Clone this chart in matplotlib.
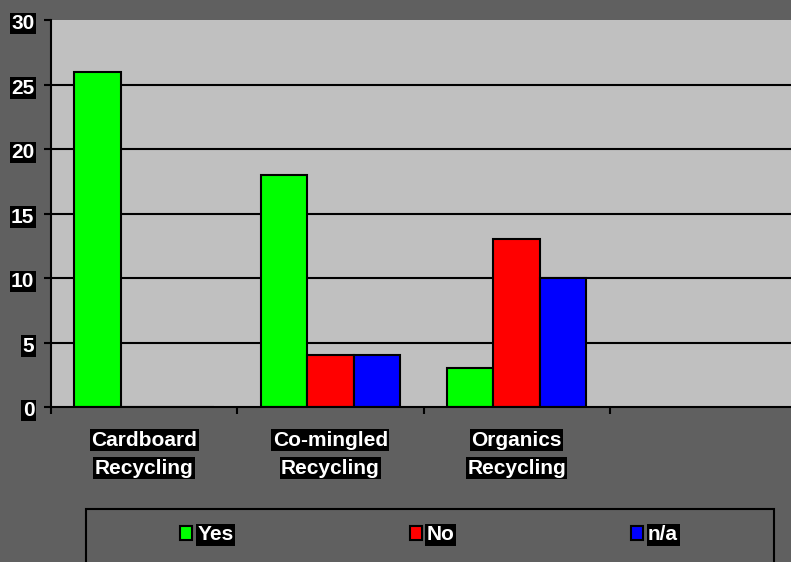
import numpy as np
import matplotlib
matplotlib.use("Agg")
import matplotlib.pyplot as plt
import matplotlib.transforms as mtransforms
from matplotlib.patches import Rectangle

plt.rcParams['font.family'] = ['Liberation Sans', 'DejaVu Sans']
plt.rcParams['font.weight'] = 'bold'

# data
categories = ["Cardboard\nRecycling", "Co-mingled\nRecycling", "Organics\nRecycling", ""]
series = ["Yes", "No", "n/a"]
yes = [26, 18, 3]
no = [0, 4, 13]
na = [0, 4, 10]
yticks = [0, 5, 10, 15, 20, 25, 30]

colors = ['#00ff00', '#ff0000', '#0000ff']
bg = '#606060'
W, H = 791, 562

fig = plt.figure(figsize=(W / 100, H / 100), dpi=100, facecolor=bg)
# plot area: left 51px, top 20px, bottom 407px, runs off the right edge
ax = fig.add_axes([51 / W, (H - 407) / H, (796 - 51) / W, (407 - 20) / H])
ax.set_facecolor('#c0c0c0')

x = np.arange(len(yes))
width = 0.25
bars = []
for i, (vals, c) in enumerate(zip([yes, no, na], colors)):
    b = ax.bar(x + (i - 1) * width, vals, width, color=c, edgecolor='black',
               linewidth=1.5, zorder=3, label=series[i])
    bars.append(b)

ax.set_xlim(-0.5, len(categories) - 0.5)
ax.set_ylim(yticks[0], yticks[-1])
ax.set_yticks(yticks)
ax.hlines(yticks[1:-1], 0, 1, transform=ax.get_yaxis_transform(),
          color='black', linewidth=1.5, zorder=1)

# ticks between categories, no labels on them
ax.set_xticks(np.arange(len(categories) + 1) - 0.5)
ax.set_xticklabels([])

for s in ['top', 'right']:
    ax.spines[s].set_visible(False)
for s in ['left', 'bottom']:
    ax.spines[s].set_linewidth(1.5)
    ax.spines[s].set_color('black')
    ax.spines[s].set_zorder(4)

ax.tick_params(axis='both', direction='out', length=5, width=1.5, color='black')
ax.tick_params(axis='y', labelsize=15, labelcolor='white', pad=7)
shift = mtransforms.ScaledTranslation(0, -1.5 / 100, fig.dpi_scale_trans)
for lbl in ax.get_yticklabels():
    lbl.set_fontweight('bold')
    lbl.set_bbox(dict(facecolor='black', edgecolor='none', pad=1.0))
    lbl.set_transform(lbl.get_transform() + shift)

# category labels, each line boxed on its own
for i, cat in enumerate(categories):
    for j, line in enumerate(cat.split('\n')):
        if not line:
            continue
        ax.annotate(line, xy=(i, 0), xycoords=('data', 'axes fraction'),
                    xytext=(0, -33 - 28 * j), textcoords='offset pixels',
                    ha='center', va='center', color='white', fontsize=15,
                    fontweight='bold',
                    bbox=dict(facecolor='black', edgecolor='none', pad=1.0))

# legend frame at the bottom
fig.patches.append(Rectangle((86 / W, -0.05), (774 - 86) / W, 0.05 + (H - 509) / H,
                             transform=fig.transFigure, facecolor=bg,
                             edgecolor='black', linewidth=1.5, zorder=0))

leg = fig.legend(handles=bars, labels=series, loc='center',
                 bbox_to_anchor=(429 / W, 1 - 535 / H), ncol=3, frameon=False,
                 fontsize=15, handlelength=0.58, handleheight=0.62,
                 handletextpad=0.25, columnspacing=8.45)
for t in leg.get_texts():
    t.set_color('white')
    t.set_fontweight('bold')
    t.set_bbox(dict(facecolor='black', edgecolor='none', pad=1.0))

fig.savefig('out.png', dpi=100, facecolor=bg)
